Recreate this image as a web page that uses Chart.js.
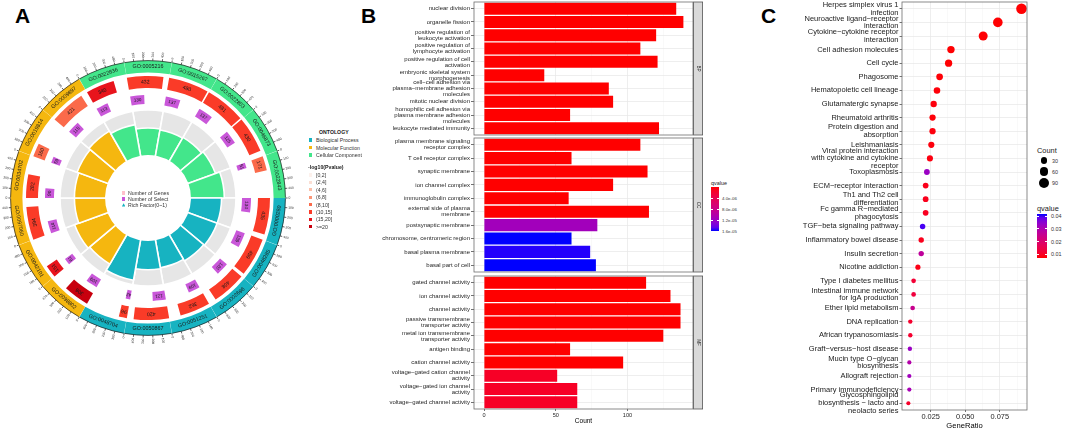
<!DOCTYPE html>
<html><head><meta charset="utf-8">
<script src="https://cdn.jsdelivr.net/npm/chart.js@4.4.1/dist/chart.umd.min.js"></script>
<style>
html,body{margin:0;padding:0;background:#fff;}
#root{position:relative;width:1065px;height:430px;overflow:hidden;font-family:"Liberation Sans",Arial,sans-serif;background:#fff;}
canvas{position:absolute;}
.t{position:absolute;white-space:nowrap;line-height:1;font-size:20px;transform-origin:0 0;color:#1a1a1a;}
.b{position:absolute;}
</style></head><body><div id="root"></div>
<script>
// ================= DATA =================
// ---- Panel A : GO circle (clockwise from top) ----
const goIds = ['GO:0005216','GO:0015267','GO:0022803','GO:0046873','GO:0022843',
  'GO:0000280','GO:0048285','GO:0002696','GO:0051251','GO:0050867','GO:0048704',
  'GO:0098802','GO:0042101','GO:0097060','GO:0034702','GO:0019814','GO:0009897','GO:0022836'];
const goOntology = ['CC','CC','CC','CC','CC','BP','BP','BP','BP','BP','BP','MF','MF','MF','MF','MF','MF','CC'];
const goGenes  = [432,480,481,430,171,435,459,408,362,420,96,306,151,394,282,160,421,340];
const goSelect = [130,137,137,125,51,134,139,120,109,121,42,109,61,114,90,59,115,113];
const goPBin   = [5,5,5,5,4,5,5,5,5,5,5,7,6,5,5,4,4,6];
const goRichFactor = [0.30,0.29,0.30,0.32,0.37,0.34,0.34,0.33,0.31,0.32,0.45,0.37,0.39,0.34,0.34,0.36,0.38,0.35];
const ontologyKeys = ['BP','MF','CC'];
const ontologyLabels = ['Biological Process','Molecular Function','Cellular Component'];
const pBinLabels = ['[0,2]','(2,4]','(4,6]','(6,8]','(8,10]','(10,15]','(15,20]','>=20'];
const geneAxisTicks = [0,100,200,300,400];
const centerLegend = ['Number of Genes','Number of Select','Rich Factor(0~1)'];

// ---- Panel B : GO bar facets ----
const bpTerms = ['nuclear division','organelle fission','positive regulation of\nleukocyte activation',
  'positive regulation of\nlymphocyte activation','positive regulation of cell\nactivation',
  'embryonic skeletal system\nmorphogenesis','cell\u2212cell adhesion via\nplasma\u2212membrane adhesion\nmolecules',
  'mitotic nuclear division','homophilic cell adhesion via\nplasma membrane adhesion\nmolecules','leukocyte mediated immunity'];
const bpCounts = [134,139,120,109,121,42,87,90,60,122];
const bpQ = [1e-12,1e-12,1e-12,1e-12,1e-12,1e-12,1e-12,1e-12,1e-12,1e-12];
const ccTerms = ['plasma membrane signaling\nreceptor complex','T cell receptor complex','synaptic membrane',
  'ion channel complex','immunoglobulin complex','external side of plasma\nmembrane','postsynaptic membrane',
  'chromosome, centromeric region','basal plasma membrane','basal part of cell'];
const ccCounts = [109,61,114,90,59,115,79,61,74,78];
const ccQ = [1e-10,1e-10,1e-10,1e-10,1e-10,1e-10,1.15e-5,1.6e-5,1.58e-5,1.6e-5];
const mfTerms = ['gated channel activity','ion channel activity','channel activity',
  'passive transmembrane\ntransporter activity','metal ion transmembrane\ntransporter activity','antigen binding',
  'cation channel activity','voltage\u2212gated cation channel\nactivity','voltage\u2212gated ion channel\nactivity',
  'voltage\u2212gated channel activity'];
const mfCounts = [113,130,137,137,125,60,97,51,65,65];
const mfQ = [1e-10,1e-10,1e-10,1e-10,1e-10,1e-10,1e-10,1.4e-6,1.4e-6,1.4e-6];
const facetNames = ['BP','CC','MF'];
const countTicks = [0,50,100];
const countMinorTicks = [25,75,125];
const countRange = [-7,145.7];
const bQLimits = [0,1.6e-5];
const bQTicks = [4e-6,8e-6,1.2e-5,1.6e-5];
const bQTickLabels = ['4.0e-06','8.0e-06','1.2e-05','1.6e-05'];

// ---- Panel C : KEGG dot plot ----
const keggTerms = ['Herpes simplex virus 1\ninfection','Neuroactive ligand\u2212receptor\ninteraction',
  'Cytokine\u2212cytokine receptor\ninteraction','Cell adhesion molecules','Cell cycle','Phagosome',
  'Hematopoietic cell lineage','Glutamatergic synapse','Rheumatoid arthritis','Protein digestion and\nabsorption',
  'Leishmaniasis','Viral protein interaction\nwith cytokine and cytokine\nreceptor','Toxoplasmosis',
  'ECM\u2212receptor interaction','Th1 and Th2 cell\ndifferentiation','Fc gamma R\u2212mediated\nphagocytosis',
  'TGF\u2212beta signaling pathway','Inflammatory bowel disease','Insulin secretion','Nicotine addiction',
  'Type I diabetes mellitus','Intestinal immune network\nfor IgA production','Ether lipid metabolism',
  'DNA replication','African trypanosomiasis','Graft\u2212versus\u2212host disease','Mucin type O\u2212glycan\nbiosynthesis',
  'Allograft rejection','Primary immunodeficiency','Glycosphingolipid\nbiosynthesis \u2212 lacto and\nneolacto series'];
const keggRatio = [0.0907,0.0736,0.0630,0.0397,0.0380,0.0315,0.0296,0.0272,0.0264,0.0264,0.0255,0.0245,0.0223,
  0.0214,0.0214,0.0214,0.0192,0.0182,0.0182,0.0158,0.0127,0.0127,0.0120,0.0103,0.0103,0.0100,0.0096,0.0096,0.0096,0.0089];
const keggCount = [95,77,66,42,40,33,31,29,28,28,27,26,23,22,22,22,20,19,19,17,13,13,13,11,11,11,10,10,10,9];
const keggQ = [0.0072,0.0072,0.0073,0.0072,0.0072,0.0075,0.0076,0.0078,0.0076,0.0078,0.0078,0.0080,0.0330,
  0.0088,0.0090,0.0095,0.0400,0.0090,0.0270,0.0085,0.0120,0.0130,0.0250,0.0110,0.0112,0.0330,0.0290,0.0320,0.0310,0.0105];
const ratioRange = [0.0043,0.0947];
const ratioTicks = [0.025,0.05,0.075];
const ratioTickLabels = ['0.025','0.050','0.075'];
const ratioMinorTicks = [0.0125,0.0375,0.0625,0.0875];
const cQLimits = [0.0071,0.0416];
const cQTicks = [0.01,0.02,0.03,0.04];
const countLegend = [30,60,90];

// ================= STYLE =================
const FONT = "'Liberation Sans', Arial, Helvetica, sans-serif";
Chart.defaults.font.family = FONT;
const ONT_COLORS = {BP:'#17b3c1', MF:'#f5b70f', CC:'#43e68b'};
const P_COLORS = ['#fdf1ec','#fbdfd4','#fbbfa9','#fb9778','#fb6a4a','#fa3b28','#e8141c','#c8000e'];
const SELECT_COLOR = '#c957d9';
const GRID_MAJOR = '#e6e6e6', GRID_MINOR = '#f2f2f2', BORDER = '#6e6e6e', AXIS_TXT = '#262626';
const root = document.getElementById('root');

// ---------- helpers ----------
function txt(x,y,s,size,o={}){
  const d=document.createElement('div'); d.className='t'; d.textContent=s;
  const k=size/20, ax=o.align==='center'?'-50%':o.align==='right'?'-100%':'0';
  d.style.left=x+'px'; d.style.top=y+'px';
  d.style.transform=`scale(${k}) translate(${ax},-50%)`;
  if(o.bold) d.style.fontWeight='bold';
  if(o.color) d.style.color=o.color;
  root.appendChild(d); return d;
}
function rect(x,y,w,h,style){const d=document.createElement('div');d.className='b';
  Object.assign(d.style,{left:x+'px',top:y+'px',width:w+'px',height:h+'px'},style);root.appendChild(d);return d;}
function addCanvas(x,y,w,h){const c=document.createElement('canvas');c.width=w;c.height=h;
  Object.assign(c.style,{left:x+'px',top:y+'px',width:w+'px',height:h+'px'});root.appendChild(c);return c;}
// ggplot-like red->blue gradient interpolated in Lab
function rgb2lab(r,g,b){const f=c=>{c/=255;return c<=0.04045?c/12.92:Math.pow((c+0.055)/1.055,2.4);};
  const R=f(r),G=f(g),B=f(b);
  let X=(R*0.4124564+G*0.3575761+B*0.1804375)/0.95047,Y=R*0.2126729+G*0.7151522+B*0.0721750,Z=(R*0.0193339+G*0.1191920+B*0.9503041)/1.08883;
  const h=t=>t>0.008856?Math.cbrt(t):7.787*t+16/116;X=h(X);Y=h(Y);Z=h(Z);
  return [116*Y-16,500*(X-Y),200*(Y-Z)];}
function lab2rgb(L,a,b){let Y=(L+16)/116,X=a/500+Y,Z=Y-b/200;
  const g=t=>{const t3=t*t*t;return t3>0.008856?t3:(t-16/116)/7.787;};
  X=g(X)*0.95047;Y=g(Y);Z=g(Z)*1.08883;
  const R=X*3.2404542-Y*1.5371385-Z*0.4985314,G=-X*0.9692660+Y*1.8760108+Z*0.0415560,B=X*0.0556434-Y*0.2040259+Z*1.0572252;
  const f=c=>{c=c<=0.0031308?12.92*c:1.055*Math.pow(c,1/2.4)-0.055;return Math.round(Math.max(0,Math.min(1,c))*255);};
  return [f(R),f(G),f(B)];}
const LAB_LO=rgb2lab(255,0,0), LAB_HI=rgb2lab(0,0,255);
function gradRB(t){t=Math.max(0,Math.min(1,t));const l=LAB_LO.map((v,i)=>v+(LAB_HI[i]-v)*t);return 'rgb('+lab2rgb(...l).join(',')+')';}
function gradCSS(dir,reverse){const st=[];for(let i=0;i<=12;i++){const t=i/12;st.push(gradRB(reverse?1-t:t)+' '+(t*100)+'%');}return `linear-gradient(${dir},${st.join(',')})`;}
function noPad(s){s.paddingTop=0;s.paddingBottom=0;s.paddingLeft=0;s.paddingRight=0;}

// ================= PANEL LETTERS =================
txt(14.5,15.5,'A',21,{bold:true,color:'#000'});
txt(361,15.5,'B',21,{bold:true,color:'#000'});
txt(761,15.5,'C',21,{bold:true,color:'#000'});

// ================= PANEL A =================
const A_CX=148, A_CY=198, A_HALF=160;
const GENE_SECTOR_MAX=500, SELECT_SECTOR_MAX=330;
const RF_MAX=0.5, RF_R0=43, RF_R1=88;
const rfMin=-RF_MAX*RF_R0/(RF_R1-RF_R0), rfMax=rfMin+RF_MAX*A_HALF/(RF_R1-RF_R0);
const ontColorArr=goOntology.map(o=>ONT_COLORS[o]);

// inner rich-factor track (polar area)
new Chart(addCanvas(A_CX-A_HALF,A_CY-A_HALF,2*A_HALF,2*A_HALF),{
  type:'polarArea',
  data:{labels:goIds,datasets:[
    {data:goRichFactor,backgroundColor:ontColorArr,borderColor:'#ffffff',borderWidth:1.6},
    {data:goIds.map(()=>RF_MAX),backgroundColor:'#e6e6e6',borderColor:'#ffffff',borderWidth:1.6}]},
  options:{responsive:false,animation:false,events:[],layout:{padding:0,autoPadding:false},
    plugins:{legend:{display:false},tooltip:{enabled:false}},
    scales:{r:{display:false,min:rfMin,max:rfMax,startAngle:-10}}}
});

// outer tracks (doughnut rings)
const geneRing=[],geneCols=[],selRing=[],selCols=[];
goGenes.forEach((g,i)=>{geneRing.push(g,GENE_SECTOR_MAX-g);geneCols.push(P_COLORS[goPBin[i]],'rgba(0,0,0,0)');});
goSelect.forEach((s,i)=>{selRing.push(s,SELECT_SECTOR_MAX-s);selCols.push(SELECT_COLOR,'rgba(0,0,0,0)');});
const clear='rgba(0,0,0,0)';
const circleText={id:'circleText',afterDatasetsDraw(chart){
  const ctx=chart.ctx; const P=['x','y','startAngle','endAngle','innerRadius','outerRadius'];
  const put=(s,x,y,rot,font,color,align)=>{ctx.save();ctx.translate(x,y);ctx.rotate(rot);ctx.font=font;ctx.fillStyle=color;
    ctx.textAlign=align||'center';ctx.textBaseline='middle';ctx.fillText(s,0,0);ctx.restore();};
  const TAU=Math.PI*2;
  // GO id labels + axes
  const lab=chart.getDatasetMeta(0).data, gene=chart.getDatasetMeta(2).data, sel=chart.getDatasetMeta(4).data;
  lab.forEach((el,i)=>{
    const p=el.getProps(P,true); const a=(p.startAngle+p.endAngle)/2, r=(p.innerRadius+p.outerRadius)/2;
    let rot=((a+Math.PI/2)%TAU+TAU)%TAU; if(rot>Math.PI/2&&rot<3*Math.PI/2) rot+=Math.PI;
    put(goIds[i],p.x+r*Math.cos(a),p.y+r*Math.sin(a),rot,'5.4px '+FONT,'#1a1a1a');
    // axis line + ticks (gene scale)
    const gs=gene[2*i].getProps(P,true), ge=gene[2*i+1].getProps(P,true);
    const s0=gs.startAngle, s1=ge.endAngle, R=p.outerRadius+0.4;
    ctx.save();ctx.strokeStyle='#1a1a1a';ctx.lineWidth=0.7;ctx.beginPath();ctx.arc(p.x,p.y,R,p.startAngle+0.004,p.endAngle-0.004);ctx.stroke();
    geneAxisTicks.forEach(v=>{const t=s0+(v/GENE_SECTOR_MAX)*(s1-s0);ctx.beginPath();
      ctx.moveTo(p.x+R*Math.cos(t),p.y+R*Math.sin(t));ctx.lineTo(p.x+(R+2.2)*Math.cos(t),p.y+(R+2.2)*Math.sin(t));ctx.stroke();
      const rr=R+3.2,flip=Math.cos(t)<0;
      put(String(v),p.x+rr*Math.cos(t),p.y+rr*Math.sin(t),flip?t+Math.PI:t,'3.3px '+FONT,'#333',flip?'right':'left');});
    ctx.restore();
  });
  goGenes.forEach((g,i)=>{const p=gene[2*i].getProps(P,true);const a=(p.startAngle+p.endAngle)/2,r=(p.innerRadius+p.outerRadius)/2;
    put(String(g),p.x+r*Math.cos(a),p.y+r*Math.sin(a),a+Math.PI/2,'5.2px '+FONT,'#1a1a1a');});
  goSelect.forEach((s,i)=>{const p=sel[2*i].getProps(P,true);const a=(p.startAngle+p.endAngle)/2,r=(p.innerRadius+p.outerRadius)/2;
    put(String(s),p.x+r*Math.cos(a),p.y+r*Math.sin(a),a+Math.PI/2,'4.6px '+FONT,'#1a1a1a');});
}};
new Chart(addCanvas(A_CX-A_HALF,A_CY-A_HALF,2*A_HALF,2*A_HALF),{
  type:'doughnut',
  data:{labels:goIds,datasets:[
    {data:goIds.map(()=>1),backgroundColor:ontColorArr,weight:12,spacing:1.2},
    {data:[1],backgroundColor:clear,weight:3},
    {data:geneRing,backgroundColor:geneCols,weight:12},
    {data:[1],backgroundColor:clear,weight:7},
    {data:selRing,backgroundColor:selCols,weight:9},
    {data:[1],backgroundColor:clear,weight:51},
    {data:[1],backgroundColor:'#ffffff',weight:43}]},
  options:{responsive:false,animation:false,events:[],radius:137,cutout:0,rotation:-10,circumference:360,
    layout:{padding:0},elements:{arc:{borderWidth:0}},
    plugins:{legend:{display:false},tooltip:{enabled:false}}},
  plugins:[circleText]
});
// center legend
const centerCols=['#ffc0cb',SELECT_COLOR,ONT_COLORS.BP];
centerLegend.forEach((s,k)=>{const y=193+k*6;
  if(k<2) rect(122,y-1.6,3.2,3.2,{background:centerCols[k]});
  else rect(121.8,y-1.8,3.6,3.4,{background:centerCols[k],clipPath:'polygon(50% 0,100% 100%,0 100%)'});
  txt(128,y,s,5.2,{color:'#333'});});
// right legend
txt(319,132,'ONTOLOGY',5.2,{bold:true});
ontologyKeys.forEach((k,j)=>{const y=140+j*7.5;rect(309,y-1.7,3.4,3.4,{background:ONT_COLORS[k]});txt(316,y,ontologyLabels[j],5.2,{color:'#333'});});
txt(308,167,'-log10(Pvalue)',5.2,{bold:true});
pBinLabels.forEach((s,j)=>{const y=175+j*7.4;rect(309,y-1.7,3.4,3.4,{background:P_COLORS[j]});txt(316,y,s,5.2,{color:'#333'});});

// ================= PANEL B =================
const framePlugin={id:'frame',afterDraw(chart,args,opts){const{ctx,chartArea:a}=chart;ctx.save();
  ctx.strokeStyle=BORDER;ctx.lineWidth=0.8;ctx.strokeRect(a.left,a.top,a.right-a.left,a.bottom-a.top);
  if(opts.strip){const x=a.right+0.6,w=9;ctx.fillStyle='#d9d9d9';ctx.fillRect(x,a.top,w,a.bottom-a.top);
    ctx.strokeStyle='#555';ctx.strokeRect(x,a.top,w,a.bottom-a.top);
    ctx.translate(x+w/2,(a.top+a.bottom)/2);ctx.rotate(Math.PI/2);ctx.fillStyle='#1a1a1a';ctx.font='4.6px '+FONT;
    ctx.textAlign='center';ctx.textBaseline='middle';ctx.fillText(opts.strip,0,0);}
  ctx.restore();}};
const facetDefs=[
  {terms:bpTerms,counts:bpCounts,q:bpQ,top:0,h:136,pt:2,pb:1,last:false},
  {terms:ccTerms,counts:ccCounts,q:ccQ,top:137,h:136,pt:1,pb:1,last:false},
  {terms:mfTerms,counts:mfCounts,q:mfQ,top:275,h:155,pt:1,pb:0,last:true}];
const B_LEFT=370,B_W=334,B_YAXIS=104,B_RIGHTPAD=11;
facetDefs.forEach((f,fi)=>{
  const isMajor=v=>countTicks.includes(v);
  new Chart(addCanvas(B_LEFT,f.top,B_W,f.h),{
    type:'bar',
    data:{labels:f.terms.map(t=>t.split('\n')),datasets:[{data:f.counts,
      backgroundColor:f.q.map(q=>gradRB((q-bQLimits[0])/(bQLimits[1]-bQLimits[0]))),barPercentage:0.9,categoryPercentage:1,borderWidth:0}]},
    options:{indexAxis:'y',responsive:false,animation:false,events:[],
      layout:{padding:{top:f.pt,bottom:f.pb,left:0,right:B_RIGHTPAD},autoPadding:false},
      plugins:{legend:{display:false},tooltip:{enabled:false},frame:{strip:facetNames[fi]}},
      scales:{
        x:{type:'linear',min:countRange[0],max:countRange[1],
          afterBuildTicks:s=>{s.ticks=[...countTicks,...countMinorTicks].sort((a,b)=>a-b).map(v=>({value:v}));},
          grid:{color:c=>isMajor(c.tick&&c.tick.value)?GRID_MAJOR:GRID_MINOR,lineWidth:c=>isMajor(c.tick&&c.tick.value)?0.7:0.45,
            drawTicks:f.last,tickLength:2,tickColor:c=>isMajor(c.tick&&c.tick.value)?'#333':'rgba(0,0,0,0)',tickWidth:0.7},
          border:{display:false},
          ticks:{display:f.last,autoSkip:false,maxRotation:0,padding:1,color:AXIS_TXT,font:{size:5.6},
            callback:v=>isMajor(v)?String(v):''},
          title:{display:f.last,text:'Count',color:'#000',font:{size:6.5},padding:{top:0,bottom:5}},
          afterFit:s=>{s.height=f.last?21:0;noPad(s);}},
        y:{grid:{color:GRID_MAJOR,lineWidth:0.7,offset:false,drawTicks:true,tickLength:3,tickColor:'#333',tickWidth:0.7},
          border:{display:false},
          ticks:{autoSkip:false,padding:1,color:AXIS_TXT,font:{size:6,lineHeight:1}},
          afterFit:s=>{s.width=B_YAXIS;noPad(s);}}
      }},
    plugins:[framePlugin]
  });
});
// B colour bar legend
const bBar={x:711,y:187,w:8,h:44};
txt(711,183,'qvalue',5.4,{color:'#1a1a1a'});
rect(bBar.x,bBar.y,bBar.w,bBar.h,{background:gradCSS('to bottom',false)});
bQTicks.forEach((q,j)=>{const y=bBar.y+(q-bQLimits[0])/(bQLimits[1]-bQLimits[0])*bBar.h;
  rect(bBar.x,y-0.3,1.6,0.6,{background:'#fff'});rect(bBar.x+bBar.w-1.6,y-0.3,1.6,0.6,{background:'#fff'});
  txt(bBar.x+bBar.w+3,y,bQTickLabels[j],4.4,{color:'#333'});});

// ================= PANEL C =================
const sizeOf=c=>0.6+0.48*Math.sqrt(c);
const cColor=q=>gradRB((q-cQLimits[0])/(cQLimits[1]-cQLimits[0]));
const C_LEFT=770,C_W=258,C_YAXIS=132;
new Chart(addCanvas(C_LEFT,0,C_W,430),{
  type:'bubble',
  data:{datasets:[{data:keggTerms.map((t,i)=>({x:keggRatio[i],y:i,r:sizeOf(keggCount[i])})),
    backgroundColor:keggQ.map(cColor),borderWidth:0,hoverRadius:0}]},
  options:{responsive:false,animation:false,events:[],
    layout:{padding:{top:2,bottom:0,left:0,right:1},autoPadding:false},
    plugins:{legend:{display:false},tooltip:{enabled:false},frame:{}},
    scales:{
      x:{type:'linear',min:ratioRange[0],max:ratioRange[1],
        afterBuildTicks:s=>{s.ticks=[...ratioTicks,...ratioMinorTicks].sort((a,b)=>a-b).map(v=>({value:v}));},
        grid:{color:c=>ratioTicks.includes(c.tick&&c.tick.value)?GRID_MAJOR:GRID_MINOR,
          lineWidth:c=>ratioTicks.includes(c.tick&&c.tick.value)?0.7:0.45,
          tickLength:2,tickColor:c=>ratioTicks.includes(c.tick&&c.tick.value)?'#333':'rgba(0,0,0,0)',tickWidth:0.7},
        border:{display:false},
        ticks:{autoSkip:false,maxRotation:0,padding:1,color:AXIS_TXT,font:{size:7.4},
          callback:v=>{const k=ratioTicks.indexOf(v);return k>=0?ratioTickLabels[k]:'';}},
        title:{display:true,text:'GeneRatio',color:'#000',font:{size:7.6},padding:{top:0,bottom:0}},
        afterFit:s=>{s.height=20;noPad(s);}},
      y:{type:'linear',reverse:true,min:-0.5,max:keggTerms.length-0.5,
        afterBuildTicks:s=>{s.ticks=keggTerms.map((_,i)=>({value:i}));},
        grid:{color:GRID_MAJOR,lineWidth:0.7,tickLength:2.5,tickColor:'#333',tickWidth:0.7},
        border:{display:false},
        ticks:{autoSkip:false,padding:1,color:'#1a1a1a',font:{size:7.5,lineHeight:1.05},
          callback:v=>keggTerms[v]!==undefined?keggTerms[v].split('\n'):''},
        afterFit:s=>{s.width=C_YAXIS;noPad(s);}}
    }},
  plugins:[framePlugin]
});
// C legends
txt(1037,150,'Count',7.4,{color:'#1a1a1a'});
countLegend.forEach((c,j)=>{const y=[160.7,171.7,183.3][j],r=sizeOf(c);
  rect(1044-r,y-r,2*r,2*r,{background:'#000',borderRadius:'50%'});
  txt(1052,y,String(c),5.4,{color:'#333'});});
txt(1037,208,'qvalue',7.4,{color:'#1a1a1a'});
const cBar={x:1037,y:214,w:10,h:44};
rect(cBar.x,cBar.y,cBar.w,cBar.h,{background:gradCSS('to top',false)});
cQTicks.forEach(q=>{const y=cBar.y+cBar.h-(q-cQLimits[0])/(cQLimits[1]-cQLimits[0])*cBar.h;
  rect(cBar.x,y-0.3,2,0.6,{background:'#fff'});rect(cBar.x+cBar.w-2,y-0.3,2,0.6,{background:'#fff'});
  txt(cBar.x+cBar.w+3.5,y,q.toFixed(2),5.4,{color:'#333'});});
</script></body></html>
